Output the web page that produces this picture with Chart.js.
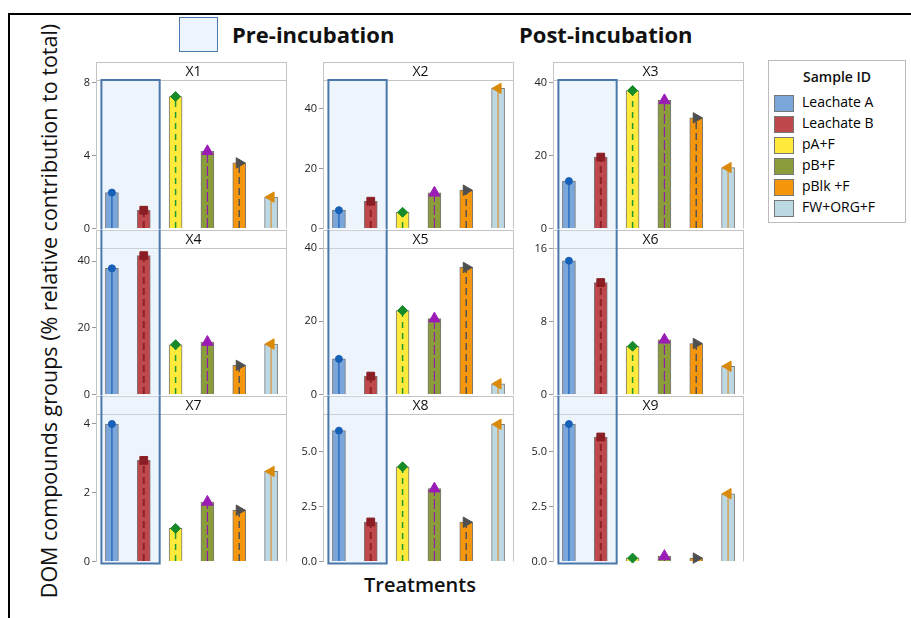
<!DOCTYPE html>
<html>
<head>
<meta charset="utf-8">
<script src="https://cdn.jsdelivr.net/npm/chart.js@4.4.1/dist/chart.umd.min.js"></script>
<style>
  body { margin: 0; width: 911px; height: 618px; background: #fff; position: relative; overflow: hidden; font-family: 'Open Sans', sans-serif; color: #111; }
  .frame { position: absolute; left: 8px; top: 13px; width: 910px; height: 620px; border-top: 2px solid #000; border-left: 2px solid #000; }
  .panel { position: absolute; }
  .head { position: absolute; font-weight: 700; font-size: 22px; top: 19px; }
  .preBox { position: absolute; left: 179px; top: 17px; width: 37px; height: 33px; border: 1.5px solid #4a78aa; background: #eef4fb; }
  .ytitle { position: absolute; left: 48px; top: 311px; font-size: 21.5px; white-space: nowrap; transform: translate(-50%, -50%) rotate(-90deg); }
  .xtitle { position: absolute; left: 420px; top: 571px; font-size: 20px; font-weight: 600; transform: translateX(-50%); }
  .legend { position: absolute; left: 768px; top: 60px; width: 136px; height: 161px; border: 1px solid #bbb; }
  .legend .ttl { position: absolute; left: 0; width: 100%; top: 6px; text-align: center; font-size: 14px; font-weight: 600; }
  .legend .item { position: absolute; left: 5px; font-size: 14px; white-space: nowrap; color: #000; }
  .legend .sw { display: inline-block; width: 18px; height: 15px; border: 1px solid #777; vertical-align: middle; margin-right: 8px; }
</style>
</head>
<body>
<div class="frame"></div>
<div class="preBox"></div>
<div class="head" style="left:232px">Pre-incubation</div>
<div class="head" style="left:519px">Post-incubation</div>
<div class="ytitle">DOM compounds groups (% relative contribution to total)</div>
<div class="xtitle">Treatments</div>
<div class="legend" id="legend"><div class="ttl">Sample ID</div></div>

<script>
/* ===================== DATA ===================== */
const panels = ['X1', 'X2', 'X3', 'X4', 'X5', 'X6', 'X7', 'X8', 'X9'];
const samples = ['Leachate A', 'Leachate B', 'pA+F', 'pB+F', 'pBlk +F', 'FW+ORG+F'];

const valuesX1 = [1.97, 1.0, 7.25, 4.24, 3.6, 1.72];
const valuesX2 = [6.1, 9.1, 5.4, 11.9, 12.8, 46.9];
const valuesX3 = [13.0, 19.6, 37.9, 35.2, 30.4, 16.7];
const valuesX4 = [37.8, 41.6, 14.9, 15.7, 8.7, 15.1];
const valuesX5 = [9.7, 5.0, 22.9, 20.7, 34.7, 2.9];
const valuesX6 = [14.7, 12.3, 5.3, 6.0, 5.6, 3.1];
const valuesX7 = [4.0, 2.94, 0.96, 1.73, 1.49, 2.62];
const valuesX8 = [5.97, 1.8, 4.32, 3.32, 1.79, 6.26];
const valuesX9 = [6.27, 5.68, 0.15, 0.24, 0.15, 3.09];
const allValues = [valuesX1, valuesX2, valuesX3, valuesX4, valuesX5, valuesX6, valuesX7, valuesX8, valuesX9];

const tickLabels = [
  ['0', '4', '8'], ['0', '20', '40'], ['0', '20', '40'],
  ['0', '20', '40'], ['0', '20', '40'], ['0', '8', '16'],
  ['0', '2', '4'], ['0.0', '2.5', '5.0'], ['0.0', '2.5', '5.0']
];
const axisMax = [8.16, 49.7, 40.8, 43.9, 40.0, 16.1, 4.29, 6.73, 6.73];

/* ===================== STYLES ===================== */
const fills = ['#7ba6da', '#be484b', '#ffea3c', '#8b9d3a', '#f6960c', '#bcd8e3'];
const markerColors = ['#1660b8', '#8b1e25', '#178a2a', '#9a1bb5', '#4f4f4f', '#d98a0a'];
const markerShapes = ['circle', 'rect', 'rectRot', 'triangle', 'triangle', 'triangle'];
const markerRotation = [0, 0, 0, 0, 90, -90];
const markerRadius = [3.5, 5.5, 5, 6.5, 6, 6];
const lineColors = ['#1660b8', '#8b2328', '#1e9a2e', '#8e1fa8', '#555555', '#d4a055'];
const lineDash = [[], [7, 4], [6, 5], [10, 3], [7, 4], []];
const lineWidths = [1.2, 2, 1.5, 1.2, 1.5, 1.5];

const colLefts = [96, 323, 553];
const stripTops = [62, 230, 396];
const plotHeights = [149, 147, 148];
const panelW = 194, axisW = 32, stripH = 18, pad = 8;

/* ===================== LEGEND ===================== */
const legend = document.getElementById('legend');
samples.forEach((s, k) => {
  const it = document.createElement('div');
  it.className = 'item';
  it.style.top = (31 + k * 21) + 'px';
  it.innerHTML = '<span class="sw" style="background:' + fills[k] + '"></span>' + s;
  legend.appendChild(it);
});

/* ===================== PANEL DECORATION ===================== */
const panelDecor = {
  id: 'panelDecor',
  beforeDraw(chart, args, o) {
    const ctx = chart.ctx, a = chart.chartArea;
    const top = a.top - stripH;
    ctx.save();
    ctx.fillStyle = '#fff';
    ctx.fillRect(a.left, top, a.right - a.left, stripH);
    ctx.strokeStyle = '#c4c4c4';
    ctx.lineWidth = 1;
    ctx.beginPath();
    ctx.moveTo(a.left, top + 0.5); ctx.lineTo(a.right, top + 0.5);
    ctx.moveTo(a.left, a.top + 0.5); ctx.lineTo(a.right, a.top + 0.5);
    ctx.moveTo(a.left + 0.5, top); ctx.lineTo(a.left + 0.5, a.top);
    ctx.moveTo(a.right - 0.5, top); ctx.lineTo(a.right - 0.5, a.bottom);
    ctx.stroke();
    ctx.fillStyle = '#111';
    ctx.font = '14px "Open Sans"';
    ctx.textAlign = 'center';
    ctx.textBaseline = 'middle';
    ctx.fillText(o.name, (a.left + a.right) / 2 + 2, top + stripH / 2 + 1);
    ctx.restore();
  },
  beforeDatasetsDraw(chart, args, o) {
    const ctx = chart.ctx, a = chart.chartArea, x = chart.scales.x;
    const left = x.getPixelForValue(0) - 10.5;
    const right = (x.getPixelForValue(1) + x.getPixelForValue(2)) / 2;
    const bandTop = o.row === 0 ? a.top : a.top - stripH;
    const bandBottom = o.row === 2 ? a.bottom + 2 : a.bottom + 1;
    ctx.save();
    ctx.fillStyle = 'rgba(212,228,245,0.4)';
    ctx.fillRect(left, bandTop, right - left, bandBottom - bandTop);
    ctx.restore();
  },
  afterDatasetDraw(chart, args) {
    if (args.index !== 0) return;
    const ctx = chart.ctx;
    args.meta.data.forEach((bar, k) => {
      ctx.save();
      ctx.strokeStyle = lineColors[k];
      ctx.lineWidth = lineWidths[k];
      ctx.setLineDash(lineDash[k]);
      ctx.beginPath();
      ctx.moveTo(bar.x, bar.base);
      ctx.lineTo(bar.x, bar.y);
      ctx.stroke();
      ctx.restore();
    });
  },
  afterDraw(chart, args, o) {
    const ctx = chart.ctx, a = chart.chartArea, x = chart.scales.x;
    const left = x.getPixelForValue(0) - 10.5;
    const right = (x.getPixelForValue(1) + x.getPixelForValue(2)) / 2;
    const bandTop = o.row === 0 ? a.top : a.top - stripH;
    const bandBottom = o.row === 2 ? a.bottom + 2 : a.bottom + 1;
    ctx.save();
    ctx.strokeStyle = '#4a78aa';
    ctx.lineWidth = 2;
    ctx.beginPath();
    ctx.moveTo(left, bandTop); ctx.lineTo(left, bandBottom);
    ctx.moveTo(right, bandTop); ctx.lineTo(right, bandBottom);
    if (o.row === 0) { ctx.moveTo(left - 1, bandTop); ctx.lineTo(right + 1, bandTop); }
    if (o.row === 2) { ctx.moveTo(left - 1, bandBottom); ctx.lineTo(right + 1, bandBottom); }
    ctx.stroke();
    ctx.restore();
  }
};

/* ===================== CHARTS ===================== */
panels.forEach((name, i) => {
  const row = Math.floor(i / 3), col = i % 3;
  const w = axisW + panelW + 4;
  const h = pad + stripH + plotHeights[row] + pad;
  const cv = document.createElement('canvas');
  cv.className = 'panel';
  cv.width = w; cv.height = h;
  cv.style.width = w + 'px'; cv.style.height = h + 'px';
  cv.style.left = (colLefts[col] - axisW) + 'px';
  cv.style.top = (stripTops[row] - pad) + 'px';
  document.body.appendChild(cv);

  const vals = allValues[i];
  new Chart(cv.getContext('2d'), {
    type: 'bar',
    data: {
      labels: samples,
      datasets: [{
        type: 'bar',
        data: vals,
        backgroundColor: fills,
        borderColor: '#777',
        borderWidth: 1,
        barThickness: 13,
        minBarLength: 2,
        order: 1
      }, {
        type: 'line',
        data: vals,
        showLine: false,
        pointStyle: markerShapes,
        pointRotation: markerRotation,
        pointRadius: markerRadius,
        pointBackgroundColor: markerColors,
        pointBorderColor: markerColors,
        pointBorderWidth: 1,
        clip: false,
        order: 0
      }]
    },
    options: {
      responsive: false,
      animation: false,
      events: [],
      devicePixelRatio: 1,
      layout: { padding: { top: pad + stripH, bottom: pad, left: 0, right: 4 } },
      plugins: {
        legend: { display: false },
        tooltip: { enabled: false },
        panelDecor: { name: name, row: row }
      },
      scales: {
        x: { display: false },
        y: {
          min: 0,
          max: axisMax[i],
          afterFit: s => { s.width = axisW; },
          afterBuildTicks: s => { s.ticks = tickLabels[i].map(t => ({ value: parseFloat(t) })); },
          ticks: {
            autoSkip: false,
            callback: (v, k) => tickLabels[i][k],
            color: '#222',
            padding: 2,
            font: { family: 'Open Sans', size: 11 }
          },
          grid: { drawOnChartArea: false, tickLength: 4, color: '#999' },
          border: { color: '#c4c4c4' }
        }
      }
    },
    plugins: [panelDecor]
  });
});
</script>
</body>
</html>
